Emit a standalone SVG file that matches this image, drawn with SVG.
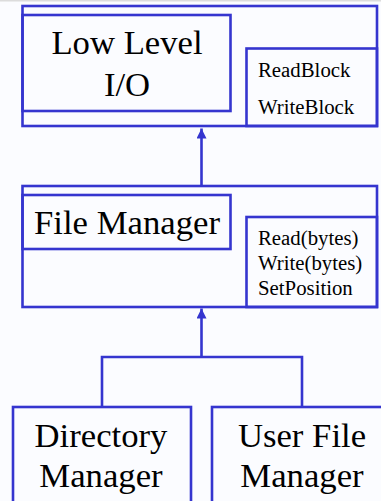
<svg xmlns="http://www.w3.org/2000/svg" width="381" height="501" viewBox="0 0 381 501">
<defs>
<style>
.box{fill:none;stroke:#3535cf;stroke-width:2.6}
.line{fill:none;stroke:#3535cf;stroke-width:2.6}
.big{font-family:"Liberation Serif","Times New Roman",serif;font-size:34.7px;fill:#000;text-anchor:middle}
.small{font-family:"Liberation Serif","Times New Roman",serif;font-size:20.8px;fill:#000}
</style>
<marker id="arrow" viewBox="0 0 10 10" refX="10" refY="5" markerWidth="10" markerHeight="10" markerUnits="userSpaceOnUse" orient="auto">
<path d="M0,0 L10,5 L0,10 z" fill="#3535cf"/>
</marker>
</defs>
<rect x="0" y="0" width="381" height="501" fill="#fbfcff"/>
<rect x="0" y="0" width="381" height="1.5" fill="#dcdcdc"/>
<g id="low-level-io">
<rect class="box" x="22.5" y="6" width="354.5" height="120"/>
<rect class="box" x="22.5" y="15" width="208" height="96"/>
<rect class="box" x="246.5" y="48.5" width="130.5" height="77.5"/>
<text class="big" x="127" y="54">Low Level</text>
<text class="big" x="127" y="96">I/O</text>
<text class="small" x="258" y="77">ReadBlock</text>
<text class="small" x="258" y="114">WriteBlock</text>
</g>
<g id="file-manager">
<rect class="box" x="22.5" y="186" width="354.5" height="121"/>
<rect class="box" x="22.5" y="195" width="208" height="54"/>
<rect class="box" x="246.5" y="217" width="130.5" height="90"/>
<text class="big" x="127" y="234">File Manager</text>
<text class="small" x="258" y="245">Read(bytes)</text>
<text class="small" x="258" y="270">Write(bytes)</text>
<text class="small" x="258" y="295">SetPosition</text>
</g>
<g id="directory-manager">
<rect class="box" x="13" y="407" width="178" height="110"/>
<text class="big" x="101" y="447">Directory</text>
<text class="big" x="101" y="487">Manager</text>
</g>
<g id="user-file-manager">
<rect class="box" x="212" y="407" width="200" height="110"/>
<text class="big" x="302" y="447">User File</text>
<text class="big" x="302" y="487">Manager</text>
</g>
<g id="connectors">
<line class="line" x1="201.5" y1="186" x2="201.5" y2="128.5" marker-end="url(#arrow)"/>
<path class="line" d="M102,407 V357 H302 V407"/>
<line class="line" x1="201.5" y1="357" x2="201.5" y2="308.5" marker-end="url(#arrow)"/>
</g>
</svg>
